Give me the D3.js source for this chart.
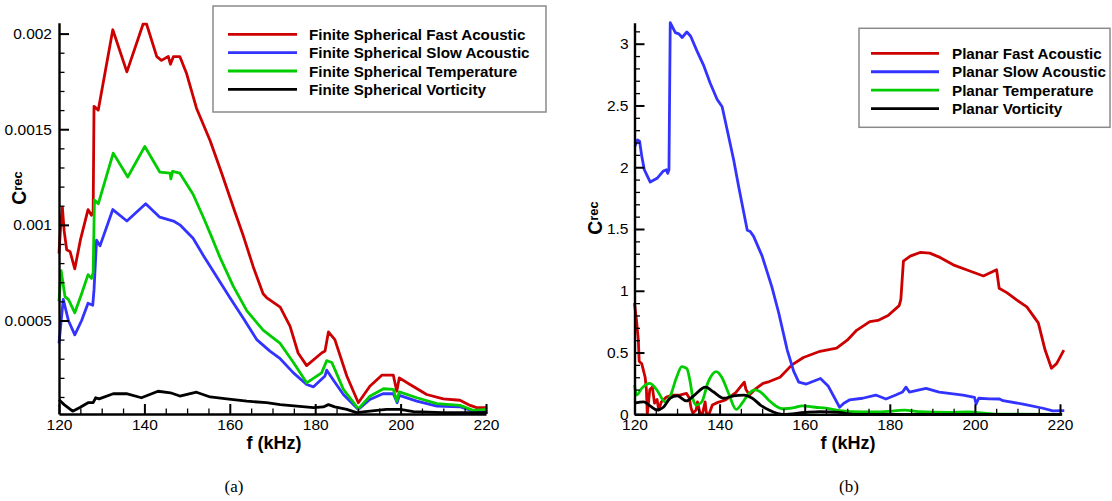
<!DOCTYPE html>
<html>
<head>
<meta charset="utf-8">
<script src="https://cdn.jsdelivr.net/npm/d3@7"></script>
<style>
  html, body { margin: 0; padding: 0; background: #fff; }
  svg { display: block; }
  .tick text { font-family: "Liberation Sans", Arial, sans-serif; font-size: 15.5px; fill: #000; }
  .axis path, .axis line { stroke: #000; }
</style>
</head>
<body>
<svg id="chart" width="1112" height="501"></svg>
<script>
// ---- Shared axis settings ----
const freqTicks = [120, 140, 160, 180, 200, 220];
const freqTickLabels = ["120", "140", "160", "180", "200", "220"];

// ---- Panel (a): finite spherical source, C_rec vs f (kHz) ----
const sphTicks = [0.0005, 0.001, 0.0015, 0.002];
const sphTickLabels = ["0.0005", "0.001", "0.0015", "0.002"];

const sphFast = [
  [120, 0.00085], [120.4, 0.00100], [120.8, 0.00109], [121.2, 0.00097], [121.8, 0.00087],
  [122.6, 0.00086], [123.7, 0.00077], [125.0, 0.00092], [126.8, 0.00108], [127.6, 0.00105],
  [128.0, 0.00107], [128.2, 0.00162], [129.2, 0.00160], [132.6, 0.00202], [135.9, 0.00180],
  [139.7, 0.00205], [140.5, 0.00205], [142.9, 0.00188], [144.0, 0.00186], [145.6, 0.00188],
  [146.1, 0.00184], [146.8, 0.00188], [148.3, 0.00188], [149.9, 0.00179], [152.2, 0.00161],
  [155.4, 0.00144], [158.1, 0.00127], [161.0, 0.00108], [163.2, 0.00094], [165.5, 0.00078],
  [167.8, 0.00064], [168.6, 0.00062], [171.8, 0.00057], [174.1, 0.00047], [176.0, 0.00033],
  [178.0, 0.000264], [181.5, 0.00033], [182.3, 0.00034], [183.1, 0.00044], [184.6, 0.00040],
  [187.4, 0.00021], [190.1, 0.00007], [192.8, 0.000156], [195.6, 0.000214], [198.3, 0.000214],
  [199.1, 0.00013], [199.7, 0.00020], [202.2, 0.000165], [206.1, 0.000113], [210.0, 0.00009],
  [213.9, 0.000083], [216.3, 0.000056], [217.8, 0.000044], [220.3, 0.000044]
];

const sphSlow = [
  [120, 0.00038], [121.0, 0.00061], [122.2, 0.00050], [123.7, 0.000425], [125.3, 0.00050],
  [126.8, 0.00059], [127.9, 0.00058], [128.2, 0.00066], [128.8, 0.00092], [129.6, 0.00089],
  [132.6, 0.00108], [135.9, 0.00102], [140.3, 0.00111], [143.6, 0.00104], [146.8, 0.00102],
  [148.3, 0.00100], [151.4, 0.00093], [153.8, 0.00084], [156.9, 0.00073], [160.0, 0.00062],
  [163.2, 0.00051], [166.3, 0.00040], [169.4, 0.00034], [171.8, 0.00030], [174.9, 0.000226],
  [178.0, 0.000165], [179.6, 0.000153], [182.3, 0.00021], [182.7, 0.00024], [184.2, 0.00019],
  [186.6, 0.000113], [190.1, 0.000035], [192.8, 0.000087], [196.0, 0.000118], [198.3, 0.000117],
  [199.2, 0.00007], [199.7, 0.000108], [203.8, 0.000078], [208.5, 0.000052], [213.9, 0.000049],
  [217.0, 0.000026], [220.3, 0.000026]
];

const sphTemp = [
  [120, 0.00060], [120.5, 0.00076], [121.4, 0.000625], [122.2, 0.00061], [123.7, 0.00054],
  [125.3, 0.00064], [126.8, 0.00074], [127.6, 0.00072], [128.0, 0.00075], [128.3, 0.00113],
  [129.2, 0.00111], [132.7, 0.001375], [136.1, 0.00125], [140.1, 0.00141], [143.6, 0.001276],
  [146.0, 0.00127], [146.2, 0.00124], [146.6, 0.00128], [148.3, 0.00127], [151.4, 0.00116],
  [153.8, 0.00104], [155.5, 0.00095], [157.7, 0.00083], [160.8, 0.00068], [164.0, 0.00055],
  [167.8, 0.00045], [171.8, 0.00038], [174.9, 0.00028], [178.0, 0.000174], [181.5, 0.000226],
  [182.7, 0.00029], [183.9, 0.00028], [186.6, 0.00014], [190.1, 0.000038], [192.8, 0.000104],
  [196.0, 0.000143], [198.3, 0.00014], [199.1, 0.000078], [199.7, 0.000127], [203.8, 0.000096],
  [208.5, 0.000065], [213.9, 0.000056], [217.0, 0.00003], [220.3, 0.000035]
];

const sphVort = [
  [120, 0.000085], [121.2, 0.00006], [123.2, 0.000026], [124.9, 0.000045], [126.8, 0.00007],
  [128.0, 0.00007], [128.6, 0.000096], [129.4, 0.00009], [132.7, 0.000117], [135.8, 0.000118],
  [139.3, 0.000096], [143.2, 0.00013], [146.1, 0.000122], [148.3, 0.000105], [152.2, 0.000125],
  [155.4, 0.0001], [159.3, 0.00009], [164.0, 0.000078], [168.6, 0.00007], [171.8, 0.00006],
  [179.6, 0.000044], [181.9, 0.000048], [183.1, 0.00006], [184.6, 0.000048], [187.4, 0.000035],
  [189.7, 0.000018], [192.8, 0.000026], [196.7, 0.000035], [199.9, 0.000035], [203.0, 0.000023],
  [210.0, 0.000018], [220.3, 0.000018]
];

// ---- Panel (b): planar source ----
const plnTicks = [0, 0.5, 1, 1.5, 2, 2.5, 3];
const plnTickLabels = ["0", "0.5", "1", "1.5", "2", "2.5", "3"];

const plnFast = [
  [120, 0.90], [120.5, 0.75], [120.9, 0.60], [121.1, 0.43], [121.7, 0.41], [122.5, 0.30],
  [122.8, 0.20], [123.0, 0.0], [123.6, 0.20], [124.2, 0.22], [124.7, 0.09], [125.3, 0.12],
  [125.7, 0.035], [126.3, 0.10], [127.5, 0.14], [129.0, 0.156], [130.6, 0.156], [132.2, 0.17],
  [132.9, 0.13], [133.3, 0.05], [133.7, 0.01], [134.5, 0.035], [134.8, 0.10], [135.4, 0.01],
  [136.0, 0.01], [136.6, 0.10], [136.9, 0.01], [137.5, 0.0], [138.3, 0.075], [139.4, 0.094],
  [141.4, 0.116], [143.8, 0.175], [145.8, 0.26], [146.2, 0.20], [147.0, 0.156], [148.6, 0.21],
  [150.2, 0.25], [151.7, 0.265], [154.2, 0.30], [157.0, 0.40], [159.7, 0.46], [163.6, 0.51],
  [167.5, 0.535], [170.0, 0.60], [172.2, 0.68], [175.3, 0.75], [177.2, 0.76], [179.6, 0.80],
  [182.2, 0.88], [182.6, 0.93], [183.2, 1.24], [184.8, 1.28], [187.1, 1.31], [189.4, 1.305],
  [191.8, 1.27], [194.9, 1.21], [198.8, 1.16], [202.0, 1.12], [205.1, 1.17], [205.7, 1.02],
  [207.5, 0.985], [209.8, 0.926], [212.2, 0.87], [214.9, 0.74], [216.5, 0.52], [218.0, 0.373],
  [219.2, 0.41], [220.9, 0.52]
];

const plnSlow = [
  [120.1, 2.17], [120.7, 2.22], [121.2, 2.21], [121.7, 2.09], [122.3, 1.98], [123.7, 1.88],
  [125.3, 1.91], [126.8, 1.97], [127.5, 1.98], [127.8, 1.95], [128.1, 1.98], [128.4, 3.17],
  [129.6, 3.09], [130.4, 3.08], [131.2, 3.05], [132.3, 3.095], [133.2, 3.06], [134.7, 2.94],
  [136.3, 2.82], [137.8, 2.68], [139.4, 2.55], [140.6, 2.49], [141.8, 2.30], [143.3, 2.06],
  [144.5, 1.84], [145.7, 1.63], [146.5, 1.49], [147.2, 1.48], [148.0, 1.44], [150.0, 1.28],
  [152.3, 1.03], [153.9, 0.82], [155.9, 0.52], [157.4, 0.35], [158.6, 0.26], [160.4, 0.245],
  [163.7, 0.29], [165.5, 0.23], [168.2, 0.057], [169.2, 0.09], [170.5, 0.116], [173.6, 0.13],
  [176.7, 0.156], [179.1, 0.124], [181.4, 0.156], [183.0, 0.18], [183.8, 0.22], [184.6, 0.18],
  [188.5, 0.21], [191.6, 0.18], [197.2, 0.156], [199.9, 0.138], [200.3, 0.083], [200.9, 0.13],
  [203.4, 0.125], [205.8, 0.124], [206.6, 0.11], [211.3, 0.083], [216.0, 0.049], [218.3, 0.027],
  [221.0, 0.03]
];

const plnTemp = [
  [120, 0.237], [120.5, 0.156], [121.7, 0.21], [123.6, 0.25], [125.2, 0.20], [127.2, 0.10],
  [128.3, 0.14], [129.9, 0.30], [131.1, 0.386], [132.3, 0.37], [133.1, 0.26], [133.8, 0.116],
  [134.6, 0.075], [135.8, 0.10], [137.3, 0.26], [139.2, 0.345], [140.5, 0.30], [142.1, 0.17],
  [143.9, 0.04], [145.3, 0.09], [146.8, 0.165], [148.4, 0.197], [150.0, 0.17], [151.5, 0.116],
  [154.7, 0.045], [157.8, 0.057], [159.4, 0.068], [162.5, 0.057], [165.0, 0.05], [168.2, 0.03],
  [173.6, 0.02], [177.6, 0.02], [183.5, 0.033], [186.7, 0.022], [193.7, 0.016], [198.3, 0.02],
  [204.7, 0.002], [220.5, 0.0]
];

const plnVort = [
  [120, 0.09], [122.2, 0.10], [123.7, 0.067], [125.3, 0.035], [126.8, 0.057], [128.4, 0.13],
  [130.0, 0.15], [132.2, 0.108], [133.9, 0.15], [136.7, 0.22], [138.6, 0.18], [141.0, 0.13],
  [143.3, 0.15], [145.7, 0.156], [147.7, 0.13], [149.6, 0.075], [151.6, 0.035], [153.5, 0.008],
  [155.0, 0.0], [160.0, 0.015], [163.5, 0.022], [168.0, 0.015], [172.0, 0.0], [220.5, 0.0]
];

const sphNames = ["Finite Spherical Fast Acoustic", "Finite Spherical Slow Acoustic",
                  "Finite Spherical Temperature", "Finite Spherical Vorticity"];
const plnNames = ["Planar Fast Acoustic", "Planar Slow Acoustic",
                  "Planar Temperature", "Planar Vorticity"];
const seriesColors = ["#cc0000", "#3333ff", "#00cc00", "#000000"];

const svg = d3.select("#chart");

function drawPanel(cfg) {
  const g = svg.append("g");
  const x = d3.scaleLinear().domain([120, 220]).range(cfg.xRange);
  const y = d3.scaleLinear().domain(cfg.yDomain).range(cfg.yRange);

  // curves
  cfg.series.forEach((s, i) => {
    const line = d3.line()
      .x(d => x(d[0])).y(d => y(d[1]))
      .curve(cfg.curves[i]);
    g.append("path")
      .datum(s)
      .attr("fill", "none")
      .attr("stroke", seriesColors[i])
      .attr("stroke-width", 2.8)
      .attr("stroke-linejoin", "round")
      .attr("d", line);
  });

  // minor ticks
  g.append("g").attr("class", "axis")
    .attr("transform", `translate(0,${cfg.yRange[0]})`)
    .call(d3.axisBottom(x).tickValues(d3.range(125, 220, 5).filter(v => v % 20 !== 0))
      .tickSizeInner(-5.5).tickSizeOuter(0).tickFormat(""))
    .call(a => a.select(".domain").remove())
    .selectAll("line").attr("stroke-width", 1.3);
  g.append("g").attr("class", "axis")
    .attr("transform", `translate(${cfg.xRange[0]},0)`)
    .call(d3.axisLeft(y).tickValues(cfg.yMinor)
      .tickSizeInner(-5.5).tickSizeOuter(0).tickFormat(""))
    .call(a => a.select(".domain").remove())
    .selectAll("line").attr("stroke-width", 1.3);

  // major x axis
  const xa = g.append("g").attr("class", "axis")
    .attr("transform", `translate(0,${cfg.yRange[0]})`)
    .call(d3.axisBottom(x).tickValues(freqTicks)
      .tickFormat((d, i) => freqTickLabels[i])
      .tickSizeInner(-10).tickSizeOuter(0).tickPadding(5));
  xa.select(".domain").attr("stroke-width", 2.4);
  xa.selectAll(".tick line").attr("stroke-width", 2);

  // major y axis
  const ya = g.append("g").attr("class", "axis")
    .attr("transform", `translate(${cfg.xRange[0]},0)`)
    .call(d3.axisLeft(y).tickValues(cfg.yTicks)
      .tickFormat((d, i) => cfg.yLabels[i])
      .tickSizeInner(-10).tickSizeOuter(0).tickPadding(cfg.yPad));
  ya.select(".domain").attr("stroke-width", 2.4);
  ya.selectAll(".tick line").attr("stroke-width", 2);

  // axis titles
  g.append("text")
    .attr("x", cfg.xTitleX).attr("y", 449)
    .attr("text-anchor", "middle")
    .style("font-family", "Liberation Sans, Arial, sans-serif")
    .style("font-weight", "bold").style("font-size", "18px")
    .text("f (kHz)");

  const yt = g.append("text")
    .attr("transform", `translate(${cfg.yTitle[0]},${cfg.yTitle[1]}) rotate(-90)`)
    .attr("text-anchor", "middle")
    .style("font-family", "Liberation Sans, Arial, sans-serif")
    .style("font-weight", "bold");
  yt.append("tspan").style("font-size", "19.5px").text("C");
  yt.append("tspan").style("font-size", "13px").attr("dy", -4.5).text("rec");

  // panel caption
  g.append("text")
    .attr("x", cfg.captionX).attr("y", 492)
    .attr("text-anchor", "middle")
    .style("font-family", "Liberation Serif, Times New Roman, serif")
    .style("font-size", "17px")
    .text(cfg.caption);

  // legend
  const lg = g.append("g");
  const b = cfg.legendBox;
  lg.append("rect")
    .attr("x", b[0]).attr("y", b[1]).attr("width", b[2] - b[0]).attr("height", b[3] - b[1])
    .attr("fill", "#fff").attr("stroke", "#8a8a8a").attr("stroke-width", 1.5);
  cfg.names.forEach((n, i) => {
    const cy = cfg.legendRows[0] + i * cfg.legendRows[1];
    lg.append("line")
      .attr("x1", cfg.legendLine[0]).attr("x2", cfg.legendLine[1])
      .attr("y1", cy).attr("y2", cy)
      .attr("stroke", seriesColors[i]).attr("stroke-width", 2.8);
    lg.append("text")
      .attr("x", cfg.legendText).attr("y", cy + 5.5)
      .style("font-family", "Liberation Sans, Arial, sans-serif")
      .style("font-weight", "bold").style("font-size", "15.2px")
      .text(n);
  });
}

drawPanel({
  xRange: [59, 486],
  yDomain: [0.000011, 0.002057],
  yRange: [414, 22.7],
  yTicks: sphTicks, yLabels: sphTickLabels, yPad: 7,
  yMinor: d3.range(1, 21).map(k => k * 0.0001).filter((v, i) => (i + 1) % 5 !== 0),
  series: [sphFast, sphSlow, sphTemp, sphVort],
  curves: [d3.curveLinear, d3.curveLinear, d3.curveLinear, d3.curveLinear],
  names: sphNames,
  xTitleX: 274, yTitle: [26, 188],
  caption: "(a)", captionX: 234,
  legendBox: [213, 6, 546, 112], legendLine: [228, 297], legendText: 309,
  legendRows: [34.3, 18.35]
});

drawPanel({
  xRange: [634.5, 1060],
  yDomain: [0, 3.17],
  yRange: [414.3, 22.7],
  yTicks: plnTicks, yLabels: plnTickLabels, yPad: 6,
  yMinor: d3.range(1, 32).map(k => k * 0.1).filter((v, i) => (i + 1) % 5 !== 0),
  series: [plnFast, plnSlow, plnTemp, plnVort],
  curves: [d3.curveLinear, d3.curveLinear, d3.curveMonotoneX, d3.curveMonotoneX],
  names: plnNames,
  xTitleX: 848, yTitle: [602, 218],
  caption: "(b)", captionX: 849,
  legendBox: [859, 28.3, 1110, 127.3], legendLine: [871, 939], legendText: 952,
  legendRows: [53.3, 18.45]
});
</script>
</body>
</html>
